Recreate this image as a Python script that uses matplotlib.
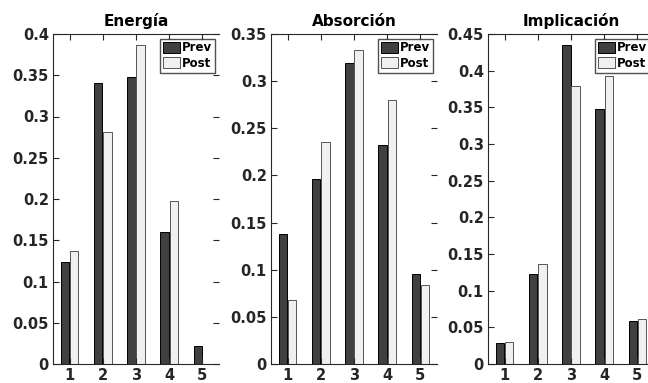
import matplotlib
matplotlib.use('Agg')
import matplotlib.pyplot as plt
import numpy as np

plt.rcParams['font.family'] = ['DejaVu Sans']
plt.rcParams['font.weight'] = 'bold'

# values
categories = [1, 2, 3, 4, 5]
titles = ['Energía', 'Absorción', 'Implicación']

energia_prev = [0.124, 0.341, 0.348, 0.160, 0.022]
energia_post = [0.137, 0.281, 0.387, 0.198, 0.0]

absorcion_prev = [0.138, 0.196, 0.319, 0.232, 0.095]
absorcion_post = [0.068, 0.235, 0.333, 0.280, 0.084]

implicacion_prev = [0.029, 0.123, 0.435, 0.348, 0.058]
implicacion_post = [0.030, 0.137, 0.379, 0.393, 0.061]

ylims = [0.4, 0.35, 0.45]

prev_all = [energia_prev, absorcion_prev, implicacion_prev]
post_all = [energia_post, absorcion_post, implicacion_post]

W, H = 648, 383
fig = plt.figure(figsize=(W / 100, H / 100), dpi=100)

# axes boxes in pixels (left, right); the last one runs past the figure edge
boxes = [(53, 219), (271, 437), (488, 654)]
top_px, bot_px = 34, 364

x = np.array(categories)
bw = 0.25
off = 0.14

for i in range(3):
    l, r = boxes[i]
    ax = fig.add_axes([l / W, 1 - bot_px / H, (r - l) / W, (bot_px - top_px) / H])
    ax.bar(x - off, prev_all[i], width=bw, color='#404040', edgecolor='black',
           linewidth=0.7, label='Prev')
    ax.bar(x + off, post_all[i], width=bw, color='#f0f0f0', edgecolor='#555555',
           linewidth=0.7, label='Post')
    ax.set_xlim(0.5, 5.5)
    ax.set_ylim(0, ylims[i])
    yt = np.arange(0, ylims[i] + 1e-9, 0.05).round(2)
    ax.set_yticks(yt)
    ax.set_yticklabels(['0' if v == 0 else f'{v:g}' for v in yt])
    ax.set_xticks(categories)
    ax.tick_params(direction='in', length=4, width=0.8, top=True, right=True,
                   labelsize=10.5, colors='#262626', pad=3)
    for lab in ax.get_xticklabels() + ax.get_yticklabels():
        lab.set_fontweight('bold')
    ax.spines['right'].set_visible(False)
    for s in ['left', 'top', 'bottom']:
        ax.spines[s].set_color('#262626')
        ax.spines[s].set_linewidth(0.8)
    ax.set_title(titles[i], fontsize=11, fontweight='bold', pad=6)
    leg = ax.legend(loc='upper right', bbox_to_anchor=(1 - 4.5 / (r - l), 1 - 4.5 / (bot_px - top_px)),
                    prop={'weight': 'bold', 'size': 8.5},
                    frameon=True, fancybox=False, borderpad=0.25,
                    handlelength=1.45, handleheight=1.05, handletextpad=0.1,
                    labelspacing=0.2, borderaxespad=0.0)
    leg.get_frame().set_edgecolor('#262626')
    leg.get_frame().set_linewidth(1.0)

fig.savefig('out.png', dpi=100)
